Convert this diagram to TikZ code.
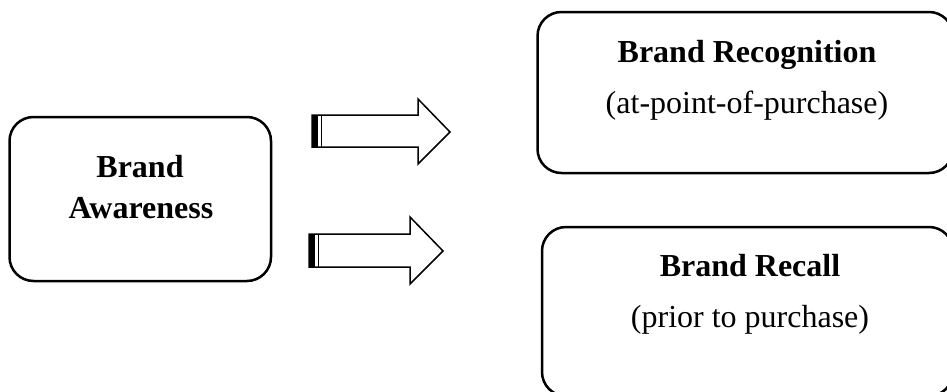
\documentclass[tikz,border=0pt]{standalone}
\usepackage{fontspec}
\setmainfont{Liberation Serif}
\begin{document}
\begin{tikzpicture}[x=1pt,y=-1pt,
  box/.style={draw=black,line width=2.5pt,rounded corners=24pt},
  title/.style={anchor=base,font=\fontsize{32}{36}\selectfont\bfseries,inner sep=0pt},
  sub/.style={anchor=base,font=\fontsize{32}{36}\selectfont,inner sep=0pt},
  blockarrow/.style={draw=black,line width=1.5pt,fill=white,line join=miter}]
\useasboundingbox (0,0) rectangle (947,391);
\clip (0,0) rectangle (947,391);

% boxes
\draw[box] (9.5,117) rectangle (271,281);
\draw[box] (537.5,12) rectangle (953,173);
\draw[box] (542,227) rectangle (953,396);

% texts
\node[title] (aw1) at (140,177) {Brand};
\node[title] (aw2) at (141,218) {Awareness};
\node[title] (rg) at (747,62) {Brand Recognition};
\node[sub] (rgs) at (747,113) {(at-point-of-purchase)};
\node[title] (rc) at (750,276) {Brand Recall};
\node[sub] (rcs) at (750,327) {(prior to purchase)};

% upper block arrow
\draw[blockarrow] (312,115) -- (418,115) -- (418,99) -- (450,132) -- (418,164) -- (418,147) -- (312,147) -- cycle;
\fill (312,115) rectangle (318,147);
\draw[line width=1.5pt] (321.5,115) -- (321.5,147);

% lower block arrow
\draw[blockarrow] (309,234) -- (410,234) -- (410,217) -- (443,251) -- (410,284) -- (410,267) -- (309,267) -- cycle;
\fill (309,234) rectangle (315,267);
\draw[line width=1.5pt] (318.5,234) -- (318.5,267);
\end{tikzpicture}
\end{document}
